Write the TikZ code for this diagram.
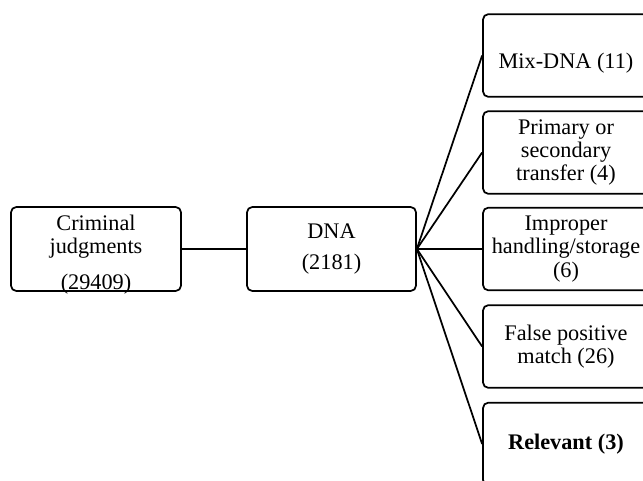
\documentclass[tikz,border=0pt]{standalone}
\usepackage{fontspec}
\setmainfont{Liberation Serif}

\tikzset{every picture/.style={line width=1.3pt}}
\tikzset{
  textsize/.style={font=\fontsize{16.7}{17.6}\selectfont},
  stagebox/.style={draw, rounded corners=4pt, align=center, inner sep=2pt, textsize},
  leafbox/.style={stagebox, minimum width=124.5pt, minimum height=62pt},
  lowtext/.style={label={[textsize, align=center, yshift=#1]center:\lowcontent}}
}

\begin{document}
\begin{tikzpicture}[x=0.75pt,y=0.75pt,yscale=-1,xscale=1]
\useasboundingbox (0,0) rectangle (643,481);
\clip (0,0) rectangle (643,481);

% Stages
\node [stagebox, minimum width=127.5pt, minimum height=63pt,
  label={[textsize, align=center, yshift=-4pt]center:Criminal\\judgments\\[9pt](29409)}] (judgments) at (96,249) {};
\node [stagebox, minimum width=126.75pt, minimum height=63pt] (dna) at (331.5,249) {DNA\\[6pt](2181)};

% Outcomes
\node [leafbox, label={[textsize, yshift=-5.5pt]center:Mix-DNA (11)}] (mix) at (566,55.5) {};
\node [leafbox] (transfer) at (566,152.5) {Primary or\\secondary\\transfer (4)};
\node [leafbox] (handling) at (566,249) {Improper\\handling/storage\\(6)};
\node [leafbox] (falsepos) at (566,346.5) {False positive\\match (26)};
\node [leafbox] (relevant) at (566,444) {\textbf{Relevant (3)}};

% Connectors
\draw (judgments) -- (dna);
\foreach \leaf in {mix,transfer,handling,falsepos,relevant}
  \draw (dna.east) -- (\leaf.west);

\end{tikzpicture}
\end{document}
